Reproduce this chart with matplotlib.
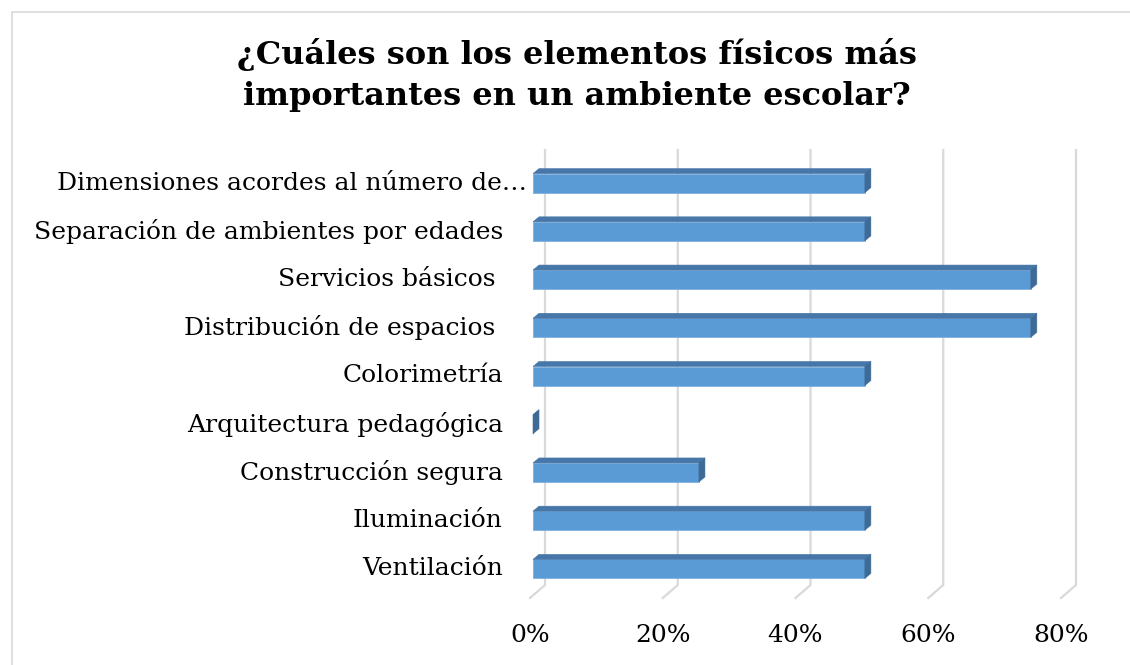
import matplotlib
matplotlib.use("Agg")
import matplotlib.pyplot as plt
from matplotlib.patches import Rectangle, Polygon

categories = ['Ventilación', 'Iluminación', 'Construcción segura',
              'Arquitectura pedagógica', 'Colorimetría',
              'Distribución de espacios ', 'Servicios básicos ',
              'Separación de ambientes por edades',
              'Dimensiones acordes al número de…']
values = [50, 50, 25, 0, 50, 75, 75, 50, 50]
ticks = [0, 20, 40, 60, 80]
tick_labels = ['0%', '20%', '40%', '60%', '80%']
title = '¿Cuáles son los elementos físicos más\nimportantes en un ambiente escolar?'

W, H = 1130, 665
fig = plt.figure(figsize=(W / 100, H / 100), dpi=100)
fig.patch.set_facecolor('white')

# axes placed in pixels: x 0 -> 533px, 80 -> 1064px ; rows 159..593px from top
left, right, top, bottom = 533, 1064, 159, 593
ax = fig.add_axes([left / W, (H - bottom) / H, (right - left) / W, (bottom - top) / H])
ax.set_xlim(0, 80)
ax.set_ylim(-0.5, len(categories) - 0.5)
ax.axis('off')

sx = (right - left) / 80.0
sy = (bottom - top) / len(categories)


def px2x(px):
    return (px - left) / sx


def py2y(py):
    return (bottom - py) / sy - 0.5


# outer chart border
fig.add_artist(Rectangle((12 / W, -0.1), 1.2, (H - 12) / H + 0.1, transform=fig.transFigure,
                         fill=False, edgecolor='#d9d9d9', lw=1.2))

# 3d-ish gridlines: back wall + floor
bdx = 12 / sx
fdx = 3 / sx
for t in ticks:
    ax.plot([t + bdx, t + bdx, t - fdx], [py2y(150), py2y(585), py2y(598)],
            color='#d9d9d9', lw=1.6, clip_on=False, zorder=1, solid_joinstyle='miter')

# bars with top and side faces
h = 19 / sy / 2
ddx, ddy = 6 / sx, 5 / sy
front_c, top_c, side_c = '#5b9bd5', '#4677a8', '#3d6a96'
for i, v in enumerate(values):
    y0, y1 = i - h, i + h
    ax.add_patch(Rectangle((0, y0), v, y1 - y0, facecolor=front_c, edgecolor='#7fb0de',
                           lw=0.6, zorder=3, clip_on=False))
    ax.add_patch(Polygon([(0, y1), (v, y1), (v + ddx, y1 + ddy), (ddx, y1 + ddy)],
                         closed=True, facecolor=top_c, edgecolor=top_c, lw=0.4, zorder=3, clip_on=False))
    ax.add_patch(Polygon([(v, y0), (v, y1), (v + ddx, y1 + ddy), (v + ddx, y0 + ddy)],
                         closed=True, facecolor=side_c, edgecolor=side_c, lw=0.4, zorder=3, clip_on=False))

# category labels
for i, c in enumerate(categories):
    xr = 527 if c.endswith('…') else 503
    ax.text(px2x(xr), i, c, ha='right', va='center', fontsize=18,
            family='DejaVu Serif', color='black', clip_on=False)

# value axis labels
for t, lab in zip(ticks, tick_labels):
    ax.text(t - fdx, py2y(636), lab, ha='center', va='center', fontsize=18,
            family='DejaVu Serif', color='black', clip_on=False)

fig.text(577 / W, 1 - 75 / H, title, ha='center', va='center', fontsize=23,
         fontweight='bold', family='DejaVu Serif', linespacing=1.45)

fig.savefig('out.png', dpi=100)
